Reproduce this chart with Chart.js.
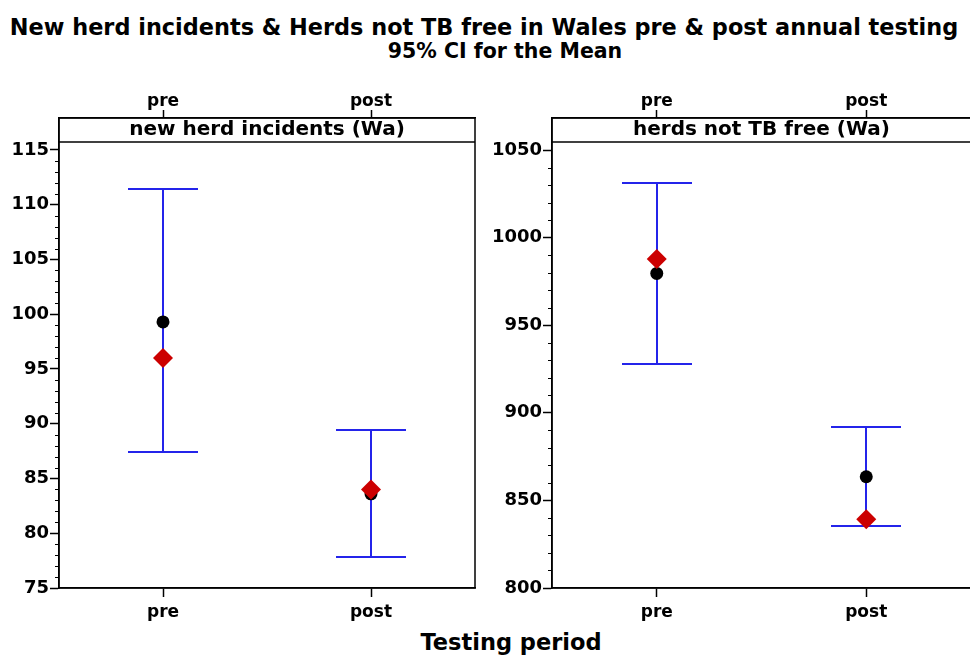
<!DOCTYPE html>
<html>
<head>
<meta charset="utf-8">
<script src="https://cdn.jsdelivr.net/npm/chart.js@4"></script>
<style>
  body { margin: 0; width: 970px; height: 657px; overflow: hidden; background: #fff; position: relative; font-family: "DejaVu Sans", sans-serif; }
  .txt { position: absolute; font-weight: bold; color: #000; white-space: nowrap; transform: translate(-50%, -50%); }
  canvas { position: absolute; top: 70px; }
</style>
</head>
<body>
<div class="txt" style="left:484px; top:27px; font-size:22.4px;">New herd incidents &amp; Herds not TB free in Wales pre &amp; post annual testing</div>
<div class="txt" style="left:505px; top:51px; font-size:20.5px;">95% CI for the Mean</div>
<div class="txt" style="left:511px; top:642px; font-size:22.5px;">Testing period</div>
<canvas id="left" width="485" height="587" style="left:0px;"></canvas>
<canvas id="right" width="500" height="587" style="left:485px;"></canvas>
<script>
// categories
const periods = ['pre', 'post'];

// new herd incidents (Wa)
const incidentsMean = [99.3, 83.6];
const incidentsMedian = [96.0, 84.0];
const incidentsLower = [87.4, 77.8];
const incidentsUpper = [111.4, 89.4];
const incidentsTicks = [75, 80, 85, 90, 95, 100, 105, 110, 115];

// herds not TB free (Wa)
const herdsMean = [979.6, 863.5];
const herdsMedian = [987.8, 839.2];
const herdsLower = [928.0, 835.6];
const herdsUpper = [1031.2, 891.7];
const herdsTicks = [800, 850, 900, 950, 1000, 1050];

const FONT = '"DejaVu Sans", sans-serif';
const BLUE = '#2424ea';

// draws CI bars, minor ticks, header strip and frame
const panelPlugin = {
    id: 'panel',
    beforeDatasetsDraw(chart) {
        const cfg = chart.options.plugins.panel;
        const ctx = chart.ctx;
        const x = chart.scales.x;
        const y = chart.scales.y;
        ctx.save();
        ctx.strokeStyle = BLUE;
        ctx.lineWidth = 2;
        cfg.lower.forEach((lo, i) => {
            const px = Math.round(x.getPixelForValue(i));
            const yLo = Math.round(y.getPixelForValue(lo));
            const yHi = Math.round(y.getPixelForValue(cfg.upper[i]));
            ctx.beginPath();
            ctx.moveTo(px, yLo); ctx.lineTo(px, yHi);
            ctx.moveTo(px - 35, yLo); ctx.lineTo(px + 35, yLo);
            ctx.moveTo(px - 35, yHi); ctx.lineTo(px + 35, yHi);
            ctx.stroke();
        });
        ctx.restore();
    },
    afterDraw(chart) {
        const cfg = chart.options.plugins.panel;
        const ctx = chart.ctx;
        const area = chart.chartArea;
        const y = chart.scales.y;
        ctx.save();
        ctx.strokeStyle = '#000';
        // minor ticks
        ctx.lineWidth = 1;
        for (let v = cfg.minorFrom; v < cfg.minorTo; v += cfg.minorStep) {
            if (cfg.major.includes(v)) continue;
            const py = Math.round(y.getPixelForValue(v)) + 0.5;
            ctx.beginPath();
            ctx.moveTo(area.left - 4, py); ctx.lineTo(area.left, py);
            ctx.stroke();
        }
        // frame + header strip
        ctx.lineWidth = 1.5;
        ctx.strokeRect(area.left, area.top, area.right - area.left, area.bottom - area.top);
        ctx.beginPath();
        ctx.moveTo(area.left, area.top + 24); ctx.lineTo(area.right, area.top + 24);
        ctx.stroke();
        ctx.fillStyle = '#000';
        ctx.font = 'bold 20px ' + FONT;
        ctx.textAlign = 'center';
        ctx.textBaseline = 'middle';
        ctx.fillText(cfg.header, (area.left + area.right) / 2, area.top + 12);
        ctx.restore();
    }
};

function makePanel(id, opts) {
    const tickFont = { family: FONT, size: 17, weight: 'bold' };
    return new Chart(document.getElementById(id), {
        type: 'line',
        data: {
            labels: periods,
            datasets: [
                {
                    label: 'Mean',
                    data: opts.mean,
                    showLine: false,
                    pointStyle: 'circle',
                    pointRadius: 6.5,
                    pointBackgroundColor: '#000',
                    pointBorderColor: '#000',
                    pointBorderWidth: 0,
                    order: 2
                },
                {
                    label: 'Median',
                    data: opts.median,
                    showLine: false,
                    pointStyle: 'rectRot',
                    pointRadius: 10,
                    pointBackgroundColor: '#cc0000',
                    pointBorderColor: '#cc0000',
                    pointBorderWidth: 0,
                    order: 1
                }
            ]
        },
        options: {
            responsive: false,
            animation: false,
            layout: { padding: { top: 0, left: 0, bottom: 0, right: opts.padRight } },
            plugins: {
                legend: { display: false },
                tooltip: { enabled: false },
                panel: {
                    lower: opts.lower,
                    upper: opts.upper,
                    header: opts.header,
                    major: opts.ticks,
                    minorFrom: opts.min,
                    minorTo: opts.ticks[opts.ticks.length - 1],
                    minorStep: opts.minorStep
                }
            },
            scales: {
                x: {
                    type: 'category',
                    position: 'bottom',
                    offset: true,
                    grid: { drawOnChartArea: false, drawTicks: true, tickLength: 9, tickColor: '#000', tickWidth: 1.5 },
                    border: { display: true, color: '#000', width: 1.5 },
                    ticks: { color: '#000', font: tickFont, padding: 5 },
                    afterFit(s) { s.height = 69; }
                },
                xTop: {
                    type: 'category',
                    position: 'top',
                    labels: periods,
                    offset: true,
                    grid: { drawOnChartArea: false, drawTicks: true, tickLength: 8, tickColor: '#000', tickWidth: 1.5 },
                    border: { display: true, color: '#000', width: 1.5 },
                    ticks: { color: '#000', font: tickFont, padding: -2 },
                    afterFit(s) { s.height = 48; }
                },
                y: {
                    min: opts.min,
                    max: opts.max,
                    grid: { drawOnChartArea: false, drawTicks: true, tickLength: 9, tickColor: '#000', tickWidth: 1.5 },
                    border: { display: true, color: '#000', width: 1.5 },
                    ticks: {
                        color: '#000',
                        font: { family: FONT, size: 18, weight: 'bold' },
                        padding: 1,
                        callback: v => String(v)
                    },
                    afterBuildTicks(s) { s.ticks = opts.ticks.map(v => ({ value: v })); },
                    afterFit(s) { s.width = opts.yWidth; }
                }
            }
        },
        plugins: [panelPlugin]
    });
}

makePanel('left', {
    mean: incidentsMean, median: incidentsMedian,
    lower: incidentsLower, upper: incidentsUpper,
    header: 'new herd incidents (Wa)',
    ticks: incidentsTicks, min: 75, max: 117.92, minorStep: 1,
    yWidth: 59, padRight: 6
});

makePanel('right', {
    mean: herdsMean, median: herdsMedian,
    lower: herdsLower, upper: herdsUpper,
    header: 'herds not TB free (Wa)',
    ticks: herdsTicks, min: 800, max: 1068.3, minorStep: 10,
    yWidth: 67, padRight: 14
});
</script>
</body>
</html>
